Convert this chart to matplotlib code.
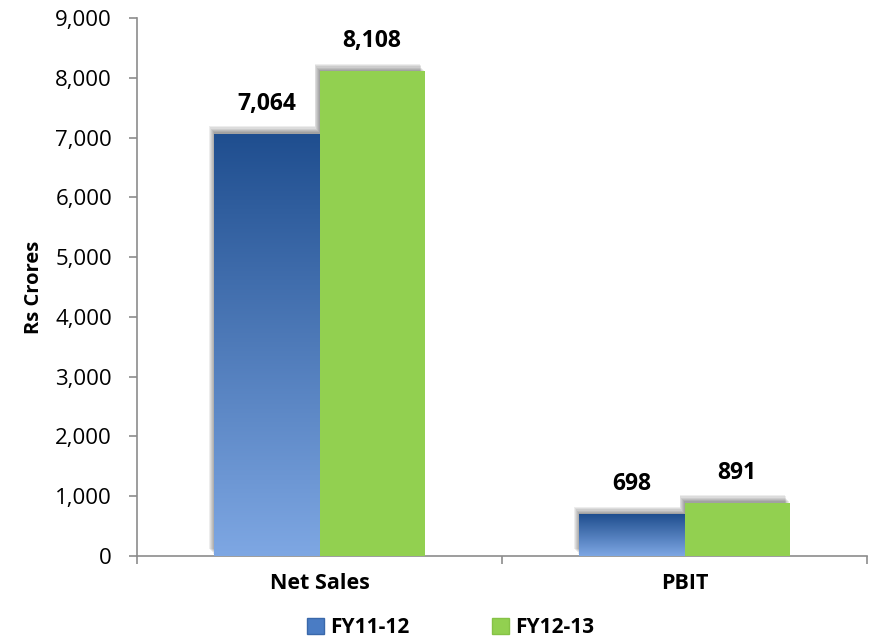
import matplotlib.pyplot as plt
import matplotlib.patheffects as pe
from matplotlib.patches import Patch
from matplotlib.colors import LinearSegmentedColormap
import numpy as np

categories = ["Net Sales", "PBIT"]
series_names = ["FY11-12", "FY12-13"]
fy11_12 = [7064, 698]
fy12_13 = [8108, 891]
y_ticks = [0, 1000, 2000, 3000, 4000, 5000, 6000, 7000, 8000, 9000]

plt.rcParams['font.family'] = ['Open Sans', 'DejaVu Sans']

blue_top = "#1F4E8F"
blue_bottom = "#7EA7E3"
green = "#92D050"
axis_gray = "#8C8C8C"

fig = plt.figure(figsize=(8.75, 6.43), dpi=100)
ax = fig.add_axes([0.1566, 0.1353, 0.8344, 0.8367])

x = np.arange(len(categories))
width = 0.288

# soft shadow around the top-left of each bar
shadow = []
for k in range(6, 0, -1):
    shadow.append(pe.SimplePatchShadow(offset=(-k * 0.6, k * 0.9), shadow_rgbFace="black", alpha=0.07))
shadow.append(pe.Normal())

bars1 = ax.bar(x - width / 2, fy11_12, width, color=blue_top, zorder=3, path_effects=shadow)
bars2 = ax.bar(x + width / 2, fy12_13, width, color=green, zorder=3, path_effects=shadow)

# gradient fill for the blue bars
cmap = LinearSegmentedColormap.from_list("bl", [blue_bottom, blue_top])
grad = np.linspace(0, 1, 256).reshape(-1, 1)
for b in bars1:
    x0, w, h = b.get_x(), b.get_width(), b.get_height()
    im = ax.imshow(grad, extent=[x0, x0 + w, 0, h], origin="lower", aspect="auto",
                   cmap=cmap, zorder=4)
    im.set_clip_path(b)

for bars, vals in [(bars1, fy11_12), (bars2, fy12_13)]:
    for b, v in zip(bars, vals):
        ax.annotate(f"{v:,}", (b.get_x() + b.get_width() / 2, v), xytext=(0, 13),
                    textcoords="offset points", ha="center", va="bottom",
                    fontsize=16.5, fontweight="bold", color="black", zorder=5)

ax.set_xlim(-0.5, 1.5)
ax.set_ylim(0, 9000)
ax.set_yticks(y_ticks)
ax.set_yticklabels([f"{t:,}" for t in y_ticks])
ax.set_xticks(x)
ax.set_xticklabels(categories, fontweight="bold")
ax.set_xticks([-0.5, 0.5, 1.5], minor=True)
ax.tick_params(axis="x", which="major", length=0, pad=12, labelsize=15.5)
ax.tick_params(axis="x", which="minor", length=6, color=axis_gray, width=1.2)
ax.tick_params(axis="y", length=6, color=axis_gray, width=1.2, pad=12, labelsize=16)

for s in ["top", "right"]:
    ax.spines[s].set_visible(False)
for s in ["left", "bottom"]:
    ax.spines[s].set_color(axis_gray)
    ax.spines[s].set_linewidth(1.2)

ax.set_ylabel("Rs Crores", fontsize=14.5, fontweight="bold")
ax.yaxis.set_label_coords(-0.128, 0.5)

handles = [Patch(facecolor="#4A7CC4", edgecolor="#3A68AA"),
           Patch(facecolor=green, edgecolor="#86C246")]
fig.legend(handles, series_names, loc="center", bbox_to_anchor=(0.515, 0.024), ncol=2,
           frameon=False, prop={"weight": "bold", "size": 15}, handlelength=0.8,
           handleheight=0.8, handletextpad=0.3, columnspacing=4)

fig.savefig("out.png", dpi=100)
